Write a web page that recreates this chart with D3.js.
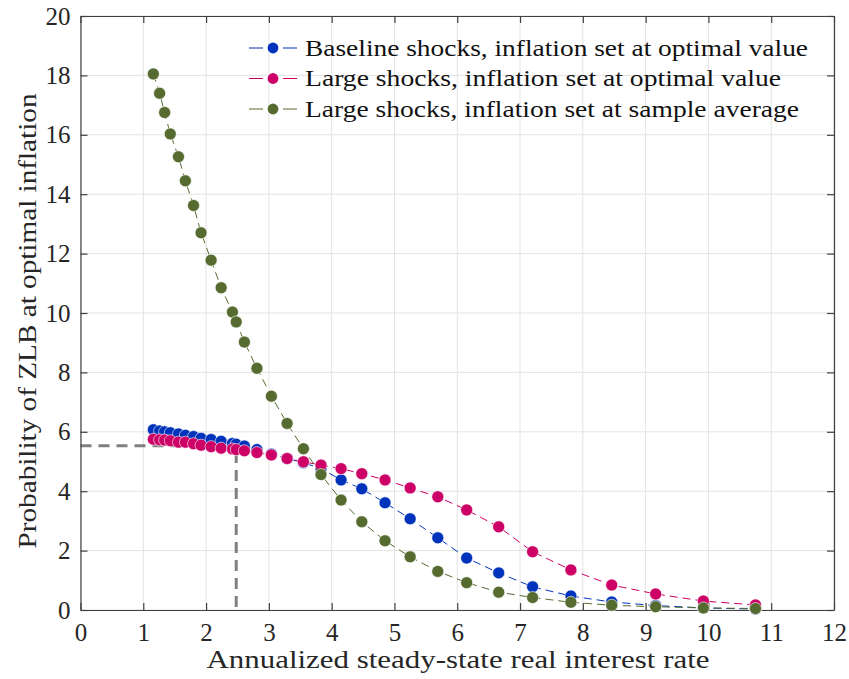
<!DOCTYPE html>
<html><head><meta charset="utf-8">
<script src="https://cdn.jsdelivr.net/npm/d3@7/dist/d3.min.js"></script>
<style>body{margin:0;background:#fff}svg{display:block}</style>
</head><body>
<svg id="c" width="849" height="679"></svg>
<script>
const rates = [1.16,1.26,1.34,1.43,1.56,1.67,1.80,1.92,2.08,2.24,2.42,2.48,2.61,2.81,3.04,3.29,3.55,3.83,4.15,4.48,4.85,5.25,5.69,6.15,6.66,7.20,7.81,8.46,9.16,9.92,10.75];
const baselineOpt = [6.07,6.03,6.00,5.97,5.93,5.88,5.84,5.78,5.74,5.68,5.61,5.58,5.52,5.40,5.25,5.10,4.96,4.76,4.38,4.08,3.61,3.07,2.43,1.75,1.25,0.78,0.47,0.27,0.15,0.07,0.03];
const largeOpt = [5.75,5.73,5.72,5.70,5.65,5.65,5.60,5.55,5.50,5.45,5.42,5.40,5.36,5.30,5.22,5.10,4.99,4.88,4.76,4.59,4.38,4.11,3.81,3.37,2.80,1.96,1.35,0.84,0.54,0.30,0.17];
const largeAvg = [18.05,17.40,16.75,16.03,15.26,14.45,13.62,12.70,11.78,10.85,10.03,9.70,9.02,8.14,7.20,6.28,5.43,4.56,3.70,2.97,2.33,1.79,1.30,0.92,0.60,0.42,0.26,0.16,0.11,0.07,0.05];
const seriesNames = ["Baseline shocks, inflation set at optimal value","Large shocks, inflation set at optimal value","Large shocks, inflation set at sample average"];
const seriesColors = ["#0033bb","#cc0066","#566b2f"];
const xTicks = [0,1,2,3,4,5,6,7,8,9,10,11,12];
const yTicks = [0,2,4,6,8,10,12,14,16,18,20];
const optRate = 2.48, optProb = 5.53;
const xLabel = "Annualized steady-state real interest rate";
const yLabel = "Probability of ZLB at optimal inflation";

const svg = d3.select("#c");
const L=80.5, R=834, T=16, B=610;
const x = d3.scaleLinear().domain([0,12]).range([L,R]);
const y = d3.scaleLinear().domain([0,20]).range([B,T]);
const font = "'Liberation Serif','DejaVu Serif',serif";

// grid
const g = svg.append("g");
g.selectAll(".gx").data(xTicks).join("line").attr("x1",d=>x(d)).attr("x2",d=>x(d)).attr("y1",T).attr("y2",B).attr("stroke","#e3e3e3").attr("stroke-width",1);
g.selectAll(".gy").data(yTicks).join("line").attr("y1",d=>y(d)).attr("y2",d=>y(d)).attr("x1",L).attr("x2",R).attr("stroke","#e3e3e3").attr("stroke-width",1);

// reference dashed lines
svg.append("path").attr("d",`M${x(0)},${y(optProb)}H${x(optRate)}V${y(0)}`).attr("fill","none").attr("stroke","#808080").attr("stroke-width",3).attr("stroke-dasharray","11,7");

// axes
const axB = d3.axisBottom(x).tickValues(xTicks).tickSizeInner(-7).tickSizeOuter(0).tickPadding(13);
const axL = d3.axisLeft(y).tickValues(yTicks).tickSizeInner(-7).tickSizeOuter(0).tickPadding(10);
const axT = d3.axisTop(x).tickValues(xTicks).tickSizeInner(-7).tickSizeOuter(0).tickFormat("");
const axR = d3.axisRight(y).tickValues(yTicks).tickSizeInner(-7).tickSizeOuter(0).tickFormat("");
function style(sel){sel.selectAll("path,line").attr("stroke","#404040").attr("stroke-width",1.2);sel.selectAll("text").attr("font-family",font).attr("font-size",25).attr("fill","#262626");}
svg.append("g").attr("transform",`translate(0,${B})`).call(axB).call(style);
svg.append("g").attr("transform",`translate(${L},0)`).call(axL).call(style);
svg.append("g").attr("transform",`translate(0,${T})`).call(axT).call(style);
svg.append("g").attr("transform",`translate(${R},0)`).call(axR).call(style);

// series
const all = [baselineOpt, largeOpt, largeAvg];
const line = d3.line().x((d,i)=>x(rates[i])).y(d=>y(d));
all.forEach((vals,k)=>{
  svg.append("path").datum(vals).attr("d",line).attr("fill","none").attr("stroke",seriesColors[k]).attr("stroke-width",1).attr("stroke-dasharray","8,5");
  svg.append("g").selectAll("circle").data(vals).join("circle")
    .attr("cx",(d,i)=>x(rates[i])).attr("cy",d=>y(d)).attr("r",6)
    .attr("fill",seriesColors[k]).attr("stroke","#fff").attr("stroke-width",0.6);
});

// legend
const legendW = [503,476,494];
const lg = svg.append("g");
seriesNames.forEach((n,k)=>{
  const yy = 48 + k*30.5;
  lg.append("line").attr("x1",249).attr("x2",263).attr("y1",yy).attr("y2",yy).attr("stroke",seriesColors[k]).attr("stroke-width",1);
  lg.append("line").attr("x1",283).attr("x2",297).attr("y1",yy).attr("y2",yy).attr("stroke",seriesColors[k]).attr("stroke-width",1);
  lg.append("circle").attr("cx",273).attr("cy",yy).attr("r",5.4).attr("fill",seriesColors[k]);
  lg.append("text").attr("x",305).attr("y",yy+7.5).attr("font-family",font).attr("font-size",23).attr("fill","#111")
    .attr("textLength",legendW[k]).attr("lengthAdjust","spacingAndGlyphs").text(n);
});

// axis labels
svg.append("text").attr("x",458).attr("y",668).attr("text-anchor","middle").attr("font-family",font).attr("font-size",25).attr("fill","#262626")
  .attr("textLength",503).attr("lengthAdjust","spacingAndGlyphs").text(xLabel);
svg.append("text").attr("transform",`translate(36,321) rotate(-90)`).attr("text-anchor","middle").attr("font-family",font).attr("font-size",25).attr("fill","#262626")
  .attr("textLength",455).attr("lengthAdjust","spacingAndGlyphs").text(yLabel);
</script>
</body></html>
